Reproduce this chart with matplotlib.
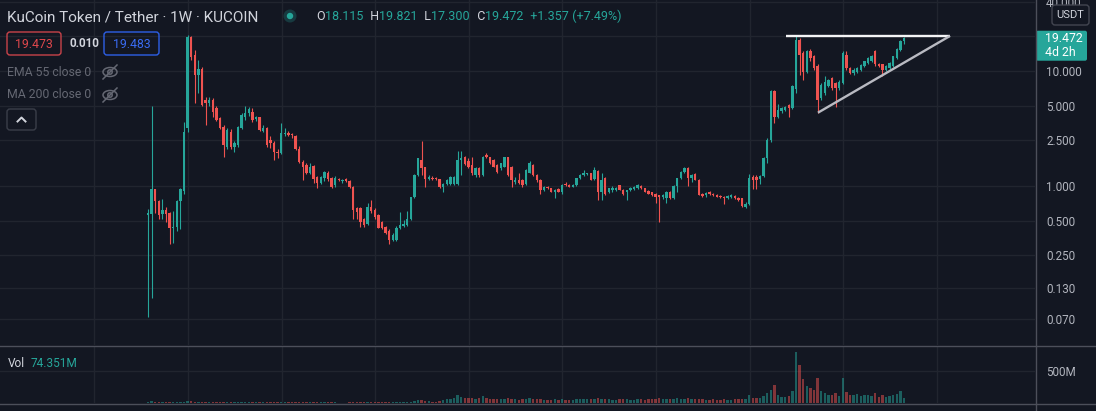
import numpy as np
import matplotlib
matplotlib.use("Agg")
import matplotlib.pyplot as plt
from matplotlib.patches import FancyBboxPatch, Ellipse, Circle
from matplotlib.ticker import NullLocator

plt.rcParams['font.family'] = ['Roboto', 'DejaVu Sans']

# ---------------- data (weekly KCS/USDT candles) ----------------
opens = [
    0.56, 0.57, 0.935, 0.74, 0.57, 0.62, 0.58, 0.43, 0.44, 0.74,
    0.90, 3.2, 19.6, 13.8, 9.2, 10.5, 5.6, 5.23, 5.6, 4.74,
    3.88, 3.28, 2.2, 2.97, 2.2, 2.27, 3.17, 3.95, 4.29, 4.43,
    3.85, 3.95, 3.03, 3.17, 2.51, 2.35, 1.99, 1.94, 2.85, 2.90,
    2.78, 2.72, 2.1, 1.63, 1.52, 1.29, 1.49, 1.19, 1.07, 1.17,
    1.31, 1.17, 1.02, 1.14, 1.11, 1.14, 1.11, 0.99, 0.64, 0.64,
    0.52, 0.47, 0.66, 0.62, 0.56, 0.49, 0.44, 0.41, 0.34, 0.34,
    0.43, 0.45, 0.46, 0.52, 0.80, 1.25, 1.68, 1.45, 1.14, 1.17,
    1.17, 1.14, 0.99, 1.04, 1.05, 1.04, 1.05, 1.68, 1.80, 1.66,
    1.52, 1.25, 1.42, 1.25, 1.86, 1.78, 1.68, 1.52, 1.42, 1.47,
    1.78, 1.47, 1.09, 1.13, 1.13, 1.05, 1.31, 1.52, 1.25, 1.13,
    0.92, 0.99, 0.955, 0.89, 0.94, 0.89, 1.05, 1.03, 0.99, 1.02,
    1.17, 1.25, 1.27, 1.29, 1.15, 1.36, 0.89, 1.17, 0.89, 0.92,
    0.93, 1.02, 0.93, 0.88, 0.92, 0.95, 0.96, 1.0, 0.955, 0.90,
    0.88, 0.86, 0.83, 0.80, 0.78, 0.89, 0.78, 1.0, 1.17, 1.33,
    1.42, 1.17, 1.27, 1.13, 0.86, 0.83, 0.88, 0.85, 0.83, 0.82,
    0.80, 0.79, 0.80, 0.82, 0.79, 0.78, 0.66, 0.70, 1.2, 1.2,
    1.15, 1.22, 1.75, 2.5, 6.7, 4.0, 4.5, 4.6, 5.1, 4.8,
    7.0, 18.7, 14.3, 9.9, 14.8, 13.4, 11.0, 5.8, 6.4, 7.4,
    8.7, 7.9, 7.1, 7.9, 13.9, 10.6, 9.6, 9.9, 10.3, 11.0,
    11.7, 12.1, 14.8, 11.4, 11.4, 10.3, 10.6, 11.0, 13.0, 15.3,
    18.115,
]
highs = [
    0.63, 4.96, 0.95, 0.755, 0.77, 0.66, 0.60, 0.61, 0.76, 0.96,
    3.63, 20.6, 20.3, 15.2, 12.5, 10.8, 6.0, 6.0, 5.8, 4.96,
    4.0, 3.4, 3.2, 3.1, 2.45, 3.35, 4.29, 4.96, 4.83, 4.74,
    4.1, 4.0, 3.4, 3.28, 2.7, 2.45, 2.1, 3.5, 3.2, 3.0,
    2.9, 2.8, 2.23, 1.68, 1.60, 1.57, 1.52, 1.22, 1.22, 1.36,
    1.36, 1.2, 1.22, 1.17, 1.16, 1.17, 1.13, 1.0, 0.66, 0.66,
    0.53, 0.71, 0.75, 0.64, 0.57, 0.5, 0.45, 0.42, 0.39, 0.45,
    0.60, 0.51, 0.61, 0.81, 1.27, 1.76, 2.48, 1.47, 1.25, 1.22,
    1.19, 1.15, 1.06, 1.15, 1.21, 1.22, 2.03, 2.03, 1.83, 1.74,
    1.8, 1.45, 1.45, 1.84, 1.92, 1.8, 1.7, 1.54, 1.6, 1.8,
    1.8, 1.5, 1.2, 1.29, 1.15, 1.4, 1.65, 1.55, 1.28, 1.15,
    1.0, 1.01, 0.97, 0.95, 0.96, 1.05, 1.08, 1.05, 1.05, 1.18,
    1.27, 1.38, 1.31, 1.31, 1.47, 1.38, 1.29, 1.19, 0.97, 1.0,
    0.99, 1.03, 0.95, 0.93, 0.99, 1.0, 1.04, 1.02, 0.97, 0.92,
    0.89, 0.87, 0.84, 0.85, 0.90, 0.91, 1.02, 1.18, 1.35, 1.47,
    1.47, 1.27, 1.29, 1.15, 0.87, 0.88, 0.9, 0.87, 0.85, 0.83,
    0.82, 0.84, 0.85, 0.83, 0.8, 0.79, 0.72, 1.27, 1.25, 1.24,
    1.25, 1.78, 2.6, 6.9, 6.9, 5.2, 4.9, 5.0, 5.2, 7.5,
    20.0, 19.4, 14.8, 15.3, 15.6, 13.8, 11.4, 7.8, 9.0, 8.6,
    8.9, 8.1, 8.3, 14.8, 15.0, 10.9, 10.6, 10.9, 11.4, 12.3,
    13.2, 13.9, 15.3, 11.8, 11.6, 11.2, 12.0, 13.6, 15.9, 18.6,
    19.821,
]
lows = [
    0.073, 0.107, 0.58, 0.52, 0.52, 0.49, 0.31, 0.32, 0.41, 0.42,
    0.86, 2.97, 12.5, 5.23, 6.4, 4.96, 3.39, 5.0, 4.0, 3.7,
    3.1, 1.80, 2.1, 2.1, 1.99, 2.2, 3.1, 3.75, 4.1, 3.63,
    3.7, 3.0, 2.95, 2.2, 2.13, 1.68, 1.75, 1.9, 2.7, 2.7,
    2.6, 2.06, 1.6, 1.13, 1.27, 1.27, 1.055, 0.955, 1.04, 1.1,
    1.1, 0.97, 0.99, 1.1, 1.07, 1.09, 0.97, 0.52, 0.52, 0.44,
    0.44, 0.46, 0.58, 0.52, 0.43, 0.42, 0.38, 0.31, 0.33, 0.33,
    0.42, 0.44, 0.45, 0.51, 0.78, 1.22, 1.25, 0.99, 1.12, 1.12,
    1.13, 0.955, 0.89, 1.02, 1.03, 1.02, 1.03, 1.25, 1.53, 1.42,
    1.25, 1.2, 1.2, 1.23, 1.76, 1.55, 1.45, 1.31, 1.38, 1.45,
    1.23, 0.99, 1.05, 1.05, 0.99, 1.02, 1.29, 1.22, 1.09, 0.86,
    0.90, 0.94, 0.88, 0.78, 0.88, 0.86, 1.0, 0.98, 0.98, 1.0,
    1.15, 1.23, 1.24, 1.12, 1.13, 0.755, 0.755, 0.84, 0.87, 0.88,
    0.91, 0.92, 0.84, 0.75, 0.9, 0.93, 0.95, 0.95, 0.88, 0.85,
    0.82, 0.71, 0.49, 0.77, 0.71, 0.77, 0.77, 0.88, 1.15, 1.3,
    1.01, 1.08, 1.12, 0.83, 0.81, 0.81, 0.84, 0.82, 0.8, 0.79,
    0.70, 0.77, 0.79, 0.77, 0.74, 0.66, 0.65, 0.69, 0.95, 0.95,
    1.05, 1.2, 1.6, 2.4, 3.5, 3.9, 4.3, 4.5, 4.0, 4.7,
    6.4, 9.3, 8.4, 9.6, 12.1, 10.3, 4.3, 5.6, 6.2, 7.2,
    6.9, 4.9, 6.9, 7.7, 10.3, 9.4, 9.3, 9.7, 10.1, 10.8,
    11.5, 11.9, 11.0, 10.8, 9.0, 10.1, 10.4, 10.8, 12.8, 15.0,
    17.3,
]
closes = [
    0.58, 0.935, 0.74, 0.56, 0.62, 0.57, 0.43, 0.44, 0.74, 0.935,
    2.97, 19.6, 13.3, 9.2, 10.5, 5.06, 5.23, 5.6, 4.43, 3.75,
    3.17, 2.27, 3.07, 2.2, 2.38, 3.28, 4.14, 4.29, 4.65, 3.75,
    4.0, 3.07, 3.22, 2.27, 2.35, 1.99, 1.94, 2.87, 2.90, 2.78,
    2.75, 2.08, 1.63, 1.47, 1.29, 1.47, 1.14, 1.07, 1.19, 1.33,
    1.14, 0.99, 1.17, 1.13, 1.12, 1.11, 0.99, 0.62, 0.60, 0.49,
    0.46, 0.66, 0.61, 0.54, 0.43, 0.43, 0.39, 0.34, 0.375, 0.43,
    0.46, 0.47, 0.52, 0.80, 1.25, 1.74, 1.42, 1.14, 1.19, 1.14,
    1.16, 0.99, 1.05, 1.13, 1.19, 1.20, 1.68, 1.74, 1.55, 1.45,
    1.29, 1.42, 1.25, 1.80, 1.80, 1.57, 1.47, 1.33, 1.57, 1.78,
    1.25, 1.13, 1.13, 1.07, 1.02, 1.38, 1.57, 1.25, 1.13, 0.92,
    0.99, 0.96, 0.89, 0.93, 0.89, 1.03, 1.02, 0.99, 1.03, 1.17,
    1.25, 1.29, 1.29, 1.13, 1.38, 0.89, 1.13, 0.85, 0.955, 0.955,
    0.97, 0.93, 0.85, 0.92, 0.97, 0.98, 1.02, 0.955, 0.89, 0.86,
    0.835, 0.81, 0.81, 0.83, 0.89, 0.78, 1.01, 1.17, 1.33, 1.42,
    1.17, 1.25, 1.13, 0.84, 0.82, 0.87, 0.85, 0.83, 0.81, 0.80,
    0.79, 0.82, 0.83, 0.78, 0.75, 0.67, 0.70, 1.17, 1.13, 1.13,
    1.22, 1.75, 2.5, 6.7, 4.0, 4.6, 4.8, 4.9, 4.8, 7.4,
    18.7, 13.9, 9.9, 14.8, 13.0, 10.6, 5.6, 7.6, 8.1, 8.4,
    7.1, 7.1, 8.1, 14.3, 10.6, 9.6, 10.3, 10.6, 11.2, 12.1,
    13.0, 13.4, 11.4, 11.0, 10.3, 11.0, 11.7, 13.4, 15.6, 18.115,
    19.472,
]
volumes_m = [
    12, 30, 18, 12, 10, 9, 12, 9, 10, 12,
    22, 38, 28, 20, 14, 18, 12, 10, 9, 10,
    11, 13, 10, 9, 8, 11, 12, 10, 9, 9,
    8, 10, 8, 10, 8, 10, 8, 11, 9, 8,
    8, 10, 11, 12, 10, 9, 11, 9, 8, 9,
    8, 9, 8, 7, 7, 7, 8, 14, 10, 11,
    9, 10, 8, 8, 9, 8, 9, 10, 8, 9,
    10, 9, 11, 18, 30, 40, 45, 35, 25, 22,
    20, 30, 45, 55, 70, 85, 120, 95, 85, 80,
    75, 70, 80, 110, 85, 70, 60, 65, 55, 70,
    75, 65, 55, 50, 55, 70, 75, 65, 60, 65,
    50, 45, 50, 55, 50, 60, 50, 45, 50, 60,
    65, 60, 55, 55, 70, 80, 70, 65, 55, 50,
    50, 55, 60, 55, 50, 50, 55, 55, 50, 55,
    55, 60, 75, 55, 60, 65, 70, 75, 70, 65,
    75, 60, 65, 70, 55, 50, 50, 55, 50, 50,
    55, 50, 50, 55, 55, 65, 55, 130, 85, 80,
    75, 110, 150, 210, 280, 130, 100, 95, 110, 180,
    800, 600, 370, 260, 240, 200, 390, 190, 150, 130,
    120, 150, 110, 390, 170, 130, 120, 140, 110, 120,
    130, 110, 150, 100, 120, 100, 110, 120, 140, 190,
    74.351,
]

price_ticks = [40, 20, 10, 5, 2.5, 1, 0.5, 0.25, 0.13, 0.07]
price_tick_labels = ["40.000", "", "10.000", "5.000", "2.500", "1.000",
                     "0.500", "0.250", "0.130", "0.070"]
vol_ticks = [500]
vol_tick_labels = ["500M"]

# drawn trend lines: (bar index, price)
top_line_x = [177.2, 222.8]
top_line_y = [20.2, 20.2]
rise_line_x = [186.1, 222.8]
rise_line_y = [4.34, 20.2]

symbol_title = "KuCoin Token / Tether · 1W · KUCOIN"
bid_text, spread_text, ask_text = "19.473", "0.010", "19.483"
countdown = "4d 2h"

# ---------------- styling ----------------
W, H = 1096, 411
BG = '#131722'
UP = '#26a69a'
DOWN = '#ef5350'
GRID = '#21252f'
SEP = '#4c4f5a'
TXT = '#d1d4dc'
AXT = '#b2b5be'
DIM = '#656873'

fig = plt.figure(figsize=(W / 100, H / 100), dpi=100, facecolor=BG)


def rect(x0, y0, x1, y1):
    return [x0 / W, 1 - y1 / H, (x1 - x0) / W, (y1 - y0) / H]


ax = fig.add_axes(rect(0, 0, 1035, 345), facecolor=BG)
axv = fig.add_axes(rect(0, 346, 1035, 403), facecolor=BG)

o = np.array(opens)
hi = np.array(highs)
lo = np.array(lows)
c = np.array(closes)
v = np.array(volumes_m)
n = np.arange(len(c))
up = c >= o
cols = np.where(up, UP, DOWN)

body_lo = np.minimum(o, c)
body_hi = np.maximum(np.maximum(o, c), body_lo * 1.022)

ax.vlines(n, lo, hi, colors=cols, lw=0.8, zorder=2)
ax.bar(n, body_hi - body_lo, bottom=body_lo, width=0.72, color=cols, lw=0, zorder=3)
ax.plot(top_line_x, top_line_y, color='#f4f4f6', lw=1.7, zorder=4, solid_capstyle='butt')
ax.plot(rise_line_x, rise_line_y, color='#b9bac2', lw=1.7, zorder=4, solid_capstyle='butt')

ax.set_yscale('log')
ax.set_ylim(10 ** ((186 - 345) / 115), 10 ** (186 / 115))
xlim = ((0 - 148) / 3.6, (1035 - 148) / 3.6)
ax.set_xlim(*xlim)

grid_idx = [(188 + 93.6 * k - 148) / 3.6 for k in range(-1, 9)]
for a in (ax, axv):
    a.set_xticks(grid_idx)
    a.tick_params(axis='x', length=0, labelbottom=False)
    a.grid(True, color=GRID, lw=1.0, zorder=0)
    a.set_axisbelow(True)
    for s in a.spines.values():
        s.set_visible(False)
    a.yaxis.tick_right()
    a.tick_params(axis='y', length=0, pad=8, labelsize=8.4, labelcolor=AXT)

ax.set_yticks(price_ticks)
ax.set_yticklabels(price_tick_labels)
ax.yaxis.set_minor_locator(NullLocator())

axv.bar(n, v, width=0.72, color=cols, alpha=0.5, lw=0, zorder=3)
axv.set_xlim(*xlim)
axv.set_ylim(0, 500 * 57 / 32)
axv.set_yticks(vol_ticks)
axv.set_yticklabels(vol_tick_labels)

# ---------------- overlay (legend, labels, separators) ----------------
ov = fig.add_axes([0, 0, 1, 1], zorder=10)
ov.set_xlim(0, W)
ov.set_ylim(H, 0)
ov.axis('off')
ov.patch.set_alpha(0)

ov.plot([1035.5, 1035.5], [0, H], color=SEP, lw=1)
ov.plot([0, W], [345.5, 345.5], color=SEP, lw=1)
ov.plot([0, W], [403.5, 403.5], color=SEP, lw=1)

# title
t = ov.text(7, 17, symbol_title, color=TXT, fontsize=11.0, va='center', ha='left')
ov.add_patch(Circle((290, 16), 6.5, color=UP, alpha=0.25, lw=0))
ov.add_patch(Circle((290, 16), 3.2, color=UP, lw=0))

# OHLC line
prev_close = closes[-2]
chg = closes[-1] - prev_close
pct = chg / prev_close * 100
parts = [("O", TXT), (f"{opens[-1]:.3f}", UP), ("  H", TXT), (f"{highs[-1]:.3f}", UP),
         ("  L", TXT), (f"{lows[-1]:.3f}", UP), ("  C", TXT), (f"{closes[-1]:.3f}", UP),
         (f"  {chg:+.3f}", UP), (f" ({pct:+.2f}%)", UP)]
prev = ov.text(316, 17, parts[0][0], color=parts[0][1], fontsize=9.0, va='center', ha='left')
for s, col in parts[1:]:
    prev = ov.annotate(s, xy=(1, 0), xycoords=prev, xytext=(0.3, 0), textcoords='offset points',
                       color=col, fontsize=9.0, va='bottom', ha='left')

# bid / spread / ask boxes
ov.add_patch(FancyBboxPatch((7, 32), 54, 23, boxstyle='round,pad=0,rounding_size=3',
                            fc='none', ec='#c9434a', lw=1.0))
ov.text(34, 44, bid_text, color='#e0474c', fontsize=8.8, va='center', ha='center')
ov.text(69, 43.5, spread_text, color=TXT, fontsize=8.4, va='center', ha='left', fontweight='bold')
ov.add_patch(FancyBboxPatch((104, 32), 55, 23, boxstyle='round,pad=0,rounding_size=3',
                            fc='none', ec='#2d5fe6', lw=1.0))
ov.text(131.5, 44, ask_text, color='#3a6cf4', fontsize=8.8, va='center', ha='center')

# indicator rows
for yy, label in ((72, "EMA 55 close 0"), (95, "MA 200 close 0")):
    ov.text(7, yy, label, color=DIM, fontsize=8.8, va='center', ha='left')
    ov.add_patch(Ellipse((110, yy), 14, 9, fc='none', ec=DIM, lw=1.1))
    ov.add_patch(Circle((110, yy), 2.2, fc='none', ec=DIM, lw=1.1))
    ov.plot([103, 117], [yy + 7, yy - 7], color=DIM, lw=1.1)

ov.add_patch(FancyBboxPatch((7, 109), 29, 21, boxstyle='round,pad=0,rounding_size=3',
                            fc=BG, ec='#3a3e49', lw=1.0))
ov.plot([17.5, 21.5, 25.5], [121.5, 117.5, 121.5], color=TXT, lw=1.4)

# price tag & currency box
last = closes[-1]
tag_y = 186 - 115 * np.log10(last)
ov.add_patch(FancyBboxPatch((1036, tag_y - 7), 51, 30, boxstyle='round,pad=0,rounding_size=2',
                            fc=UP, ec='none'))
ov.text(1045, tag_y + 0.5, f"{last:.3f}", color='white', fontsize=8.8, va='center', ha='left')
ov.text(1045, tag_y + 15, countdown, color='white', fontsize=8.8, va='center', ha='left')

ov.add_patch(FancyBboxPatch((1052, 5), 37, 20, boxstyle='round,pad=0,rounding_size=3',
                            fc=BG, ec='#434651', lw=1.0))
ov.text(1070.5, 15, "USDT", color=TXT, fontsize=8.0, va='center', ha='center')

# volume label
vt = ov.text(8, 363, "Vol", color=TXT, fontsize=8.6, va='center', ha='left')
ov.annotate(f"{volumes_m[-1]:.3f}M", xy=(1, 0), xycoords=vt, xytext=(4, 0),
            textcoords='offset points', color=UP, fontsize=8.6, va='bottom', ha='left')

fig.savefig("out.png", dpi=100, facecolor=BG)
